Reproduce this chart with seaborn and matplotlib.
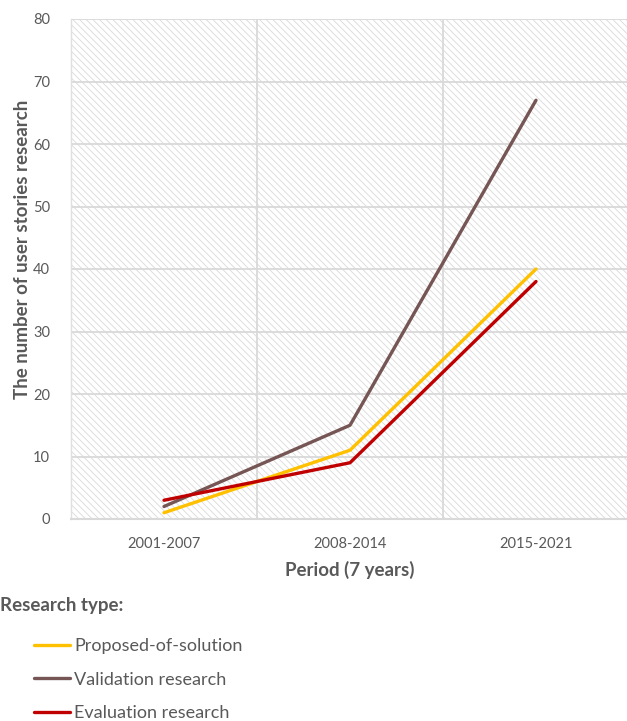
import matplotlib
matplotlib.use("Agg")
import matplotlib.pyplot as plt
import seaborn as sns
import pandas as pd
from matplotlib.patches import Rectangle

periods = ["2001-2007", "2008-2014", "2015-2021"]
series_names = ["Proposed-of-solution", "Validation research", "Evaluation research"]
proposed = [1, 11, 40]
validation = [2, 15, 67]
evaluation = [3, 9, 38]
yticks = [0, 10, 20, 30, 40, 50, 60, 70, 80]

rows = []
for name, vals in zip(series_names, [proposed, validation, evaluation]):
    for p, v in zip(periods, vals):
        rows.append({"Period": p, "Value": v, "Type": name})
df = pd.DataFrame(rows)

sns.set_theme(style="white")
plt.rcParams["font.family"] = ["Lato", "DejaVu Sans"]
plt.rcParams["hatch.color"] = "#d9d9d9"
plt.rcParams["hatch.linewidth"] = 0.6

fig = plt.figure(figsize=(6.27, 7.21), dpi=100)
ax = fig.add_axes([71 / 627, 202 / 721, 558 / 627, 500 / 721])

# hatched background
ax.add_patch(Rectangle((0, 0), 1, 1, transform=ax.transAxes, facecolor="white",
                       edgecolor="#d9d9d9", hatch="\\\\\\\\\\", linewidth=0, zorder=0))

palette = {"Proposed-of-solution": "#FFC000",
           "Validation research": "#765555",
           "Evaluation research": "#C00000"}
sns.lineplot(data=df, x="Period", y="Value", hue="Type", palette=palette,
             linewidth=2.4, ax=ax, legend=True, zorder=3, sort=False)

ax.set_xlim(-0.5, 2.5)
ax.set_ylim(0, 80)
ax.set_yticks(yticks)
ax.set_xticks(range(len(periods)))
ax.set_xticklabels(periods)

for y in yticks[1:]:
    ax.axhline(y, color="#d9d9d9", linewidth=1.3, zorder=1)
for x in [0.5, 1.5]:
    ax.axvline(x, color="#d9d9d9", linewidth=1.3, zorder=1)

for s in ["top", "right"]:
    ax.spines[s].set_visible(False)
ax.spines["left"].set_color("#e0e0e0")
ax.spines["left"].set_linewidth(1.0)
ax.spines["bottom"].set_color("#d9d9d9")
ax.spines["bottom"].set_linewidth(1.5)

ax.tick_params(axis="both", length=0, labelsize=10.5, colors="#595959")
ax.tick_params(axis="y", pad=15)
ax.tick_params(axis="x", pad=13)

ax.set_ylabel("The number of user stories research", fontsize=13.5, fontweight="bold",
              color="#595959")
ax.yaxis.set_label_coords(-0.072, 0.54)
ax.set_xlabel("Period (7 years)", fontsize=13.5, fontweight="bold", color="#595959",
              labelpad=7)

handles, labels = ax.get_legend_handles_labels()
ax.get_legend().remove()
fig.text(0.0, 1 - 605 / 721, "Research type:", fontsize=13.5, fontweight="bold",
         color="#595959", va="center", ha="left")
fig.legend(handles, labels, loc="upper left", bbox_to_anchor=(34 / 627, 1 - 638 / 721),
           frameon=False, fontsize=13, labelcolor="#595959", handlelength=2.0,
           handletextpad=0.22, labelspacing=0.97, borderpad=0, borderaxespad=0)

fig.savefig("out.png", dpi=100)
